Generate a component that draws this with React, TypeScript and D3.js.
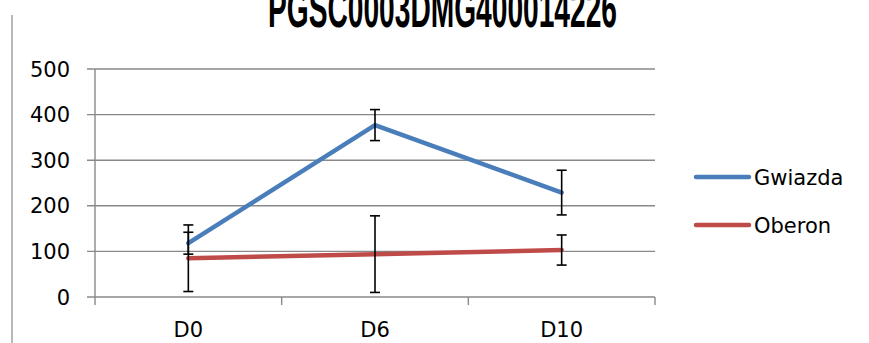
import React from "react";
import * as d3 from "d3";

const categories = ["D0", "D6", "D10"];
const gwiazda = [118, 377, 229];
const gwiazdaErr = [24, 34, 49];
const oberon = [85, 94, 103];
const oberonErr = [73, 84, 33];
const yTicks = [0, 100, 200, 300, 400, 500];
const title = "PGSC0003DMG400014226";

const series = [
  { name: "Gwiazda", values: gwiazda, errors: gwiazdaErr, color: "#4A7EBB" },
  { name: "Oberon", values: oberon, errors: oberonErr, color: "#BE4B48" },
];

export default function App() {
  const W = 869, H = 343;
  const x = d3.scaleBand<string>().domain(categories).range([95, 655]).padding(0);
  const y = d3.scaleLinear().domain([0, 500]).range([297, 69]);
  const cx = (c: string) => (x(c) as number) + x.bandwidth() / 2;
  const line = d3.line<number>().x((_, i) => cx(categories[i])).y((v) => y(v));
  const grid = "#898989";
  const font = "DejaVu Sans, sans-serif";
  const edges = [...categories.map((c) => x(c) as number), 655];

  return (
    <svg width={W} height={H} style={{ position: "absolute", left: 0, top: 0, background: "#fff" }}>
      <rect x={0} y={0} width={W} height={H} fill="#fff" />
      <line x1={12} x2={12} y1={15} y2={H} stroke="#a0a0a0" strokeWidth={1.5} />
      <text
        x={268}
        y={27}
        fontFamily="Liberation Sans, Arial, sans-serif"
        fontWeight="bold"
        fontSize={54}
        textLength={349}
        lengthAdjust="spacingAndGlyphs"
        fill="#000"
      >
        {title}
      </text>
      {yTicks.map((t) => (
        <g key={t}>
          <line x1={87} x2={655} y1={y(t)} y2={y(t)} stroke={grid} strokeWidth={1.4} />
          <text x={70} y={y(t) + 7.5} textAnchor="end" fontFamily={font} fontSize={21} fill="#000">
            {t}
          </text>
        </g>
      ))}
      <line x1={95} x2={95} y1={y(500)} y2={y(0)} stroke={grid} strokeWidth={1.4} />
      {edges.map((e, i) => (
        <line key={i} x1={e} x2={e} y1={y(0)} y2={y(0) + 8} stroke={grid} strokeWidth={1.4} />
      ))}
      {categories.map((c) => (
        <text key={c} x={cx(c)} y={337} textAnchor="middle" fontFamily={font} fontSize={21} fill="#000">
          {c}
        </text>
      ))}
      {series.map((s) => (
        <g key={s.name}>
          <path d={line(s.values) || ""} fill="none" stroke={s.color} strokeWidth={4.5} strokeLinecap="round" strokeLinejoin="round" />
          {s.values.map((v, i) => {
            const px = cx(categories[i]);
            const top = y(v + s.errors[i]);
            const bot = y(v - s.errors[i]);
            return (
              <g key={i} stroke="#000" strokeWidth={1.6}>
                <line x1={px} x2={px} y1={top} y2={bot} />
                <line x1={px - 5} x2={px + 5} y1={top} y2={top} />
                <line x1={px - 5} x2={px + 5} y1={bot} y2={bot} />
              </g>
            );
          })}
        </g>
      ))}
      {series.map((s, i) => (
        <g key={s.name}>
          <line x1={696} x2={749} y1={177 + i * 48} y2={177 + i * 48} stroke={s.color} strokeWidth={4.5} strokeLinecap="round" />
          <text x={754} y={185 + i * 48} fontFamily={font} fontSize={21} fill="#000">
            {s.name}
          </text>
        </g>
      ))}
    </svg>
  );
}
